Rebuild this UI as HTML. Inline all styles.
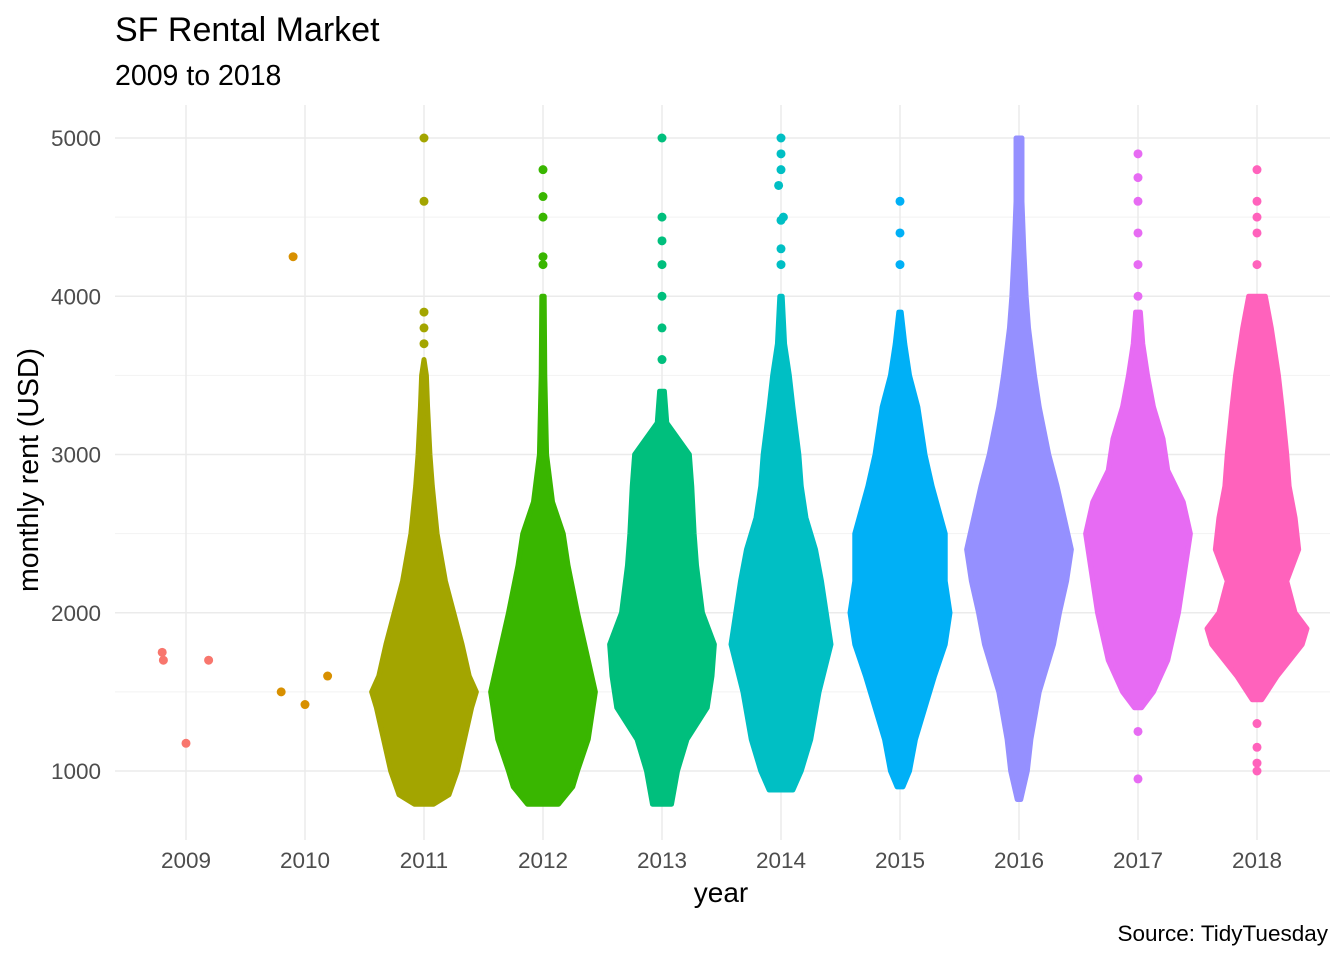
<!DOCTYPE html>
<html><head><meta charset="utf-8"><style>
body{margin:0;background:#fff;}
svg{display:block;font-family:"Liberation Sans",Arial,sans-serif;}
</style></head><body>
<svg id="c" width="1344" height="960">
<text x="115" y="41" font-size="34" fill="#000">SF Rental Market</text>
<text x="115" y="85" font-size="28.5" fill="#000">2009 to 2018</text>
<g id="grid"></g><g id="marks"></g><g id="axes"></g>
<text x="721" y="902" font-size="28" text-anchor="middle">year</text>
<text transform="translate(38,470) rotate(-90)" font-size="28.5" text-anchor="middle">monthly rent (USD)</text>
<text x="1328" y="941" font-size="22.5" text-anchor="end">Source: TidyTuesday</text>
</svg>
<script>
const years=[2009,2010,2011,2012,2013,2014,2015,2016,2017,2018];
const colors=["#F8766D","#D89000","#A3A500","#39B600","#00BF7D","#00BFC4","#00B0F6","#9590FF","#E76BF3","#FF62BC"];
const yTicks=[1000,2000,3000,4000,5000];
const yMinor=[1500,2500,3500,4500];
// density profiles: rent levels and half-widths (fraction of year spacing)
const rents2011=[790,850,1000,1200,1400,1500,1600,1800,2000,2200,2500,2800,3000,3300,3500,3600];
const width2011=[.08,.21,.28,.34,.4,.44,.38,.32,.25,.18,.11,.07,.05,.03,.02,0];
const rents2012=[790,900,1000,1200,1500,1700,2000,2300,2500,2700,3000,3500,4000];
const width2012=[.13,.25,.29,.38,.44,.38,.29,.21,.17,.08,.03,.015,.01];
const rents2013=[790,1000,1200,1400,1600,1800,2000,2300,2500,2800,3000,3200,3400];
const width2013=[.08,.13,.21,.38,.42,.44,.34,.29,.27,.25,.23,.04,.02];
const rents2014=[880,1000,1200,1500,1800,2000,2200,2400,2600,2800,3000,3300,3500,3700,4000];
const width2014=[.1,.17,.25,.32,.42,.38,.34,.29,.21,.17,.15,.1,.07,.03,.01];
const rents2015=[900,1000,1200,1400,1600,1800,2000,2200,2500,2800,3000,3300,3500,3700,3900];
const width2015=[.025,.08,.13,.21,.29,.38,.42,.38,.38,.27,.21,.15,.08,.04,.01];
const rents2016=[820,1000,1200,1500,1800,2000,2200,2400,2600,2800,3000,3300,3500,3800,4000,4300,4600,5000];
const width2016=[.015,.07,.1,.17,.29,.34,.4,.44,.38,.32,.25,.17,.13,.08,.06,.04,.025,.025];
const rents2017=[1400,1500,1700,2000,2200,2500,2700,2900,3100,3300,3500,3700,3900];
const width2017=[.03,.13,.25,.34,.38,.44,.38,.25,.21,.13,.08,.04,.02];
const rents2018=[1450,1600,1800,1900,2000,2200,2400,2600,2800,3000,3300,3500,3800,4000];
const width2018=[.04,.17,.38,.42,.32,.25,.35,.32,.27,.25,.21,.18,.12,.07];
const profiles={2011:[rents2011,width2011],2012:[rents2012,width2012],2013:[rents2013,width2013],2014:[rents2014,width2014],2015:[rents2015,width2015],2016:[rents2016,width2016],2017:[rents2017,width2017],2018:[rents2018,width2018]};
// individual points: year index, horizontal offset (year fraction), rent
const ptYear=[0,0,0,0,1,1,1,1,2,2,2,2,2,3,3,3,3,3,4,4,4,4,4,4,4,5,5,5,5,5,5,5,5,6,6,6,8,8,8,8,8,8,8,8,9,9,9,9,9,9,9,9,9];
const ptOff=[-.2,-.19,0,.19,-.2,-.1,0,.19,0,0,0,0,0,0,0,0,0,0,0,0,0,0,0,0,0,0,0,0,.02,-.02,0,0,0,0,0,0,0,0,0,0,0,0,0,0,0,0,0,0,0,0,0,0,0];
const ptRent=[1750,1700,1175,1700,1500,4250,1420,1600,3700,3800,3900,4600,5000,4200,4250,4500,4630,4800,3600,3800,4000,4200,4350,4500,5000,4200,4300,4480,4500,4700,4800,4900,5000,4200,4400,4600,950,1250,4000,4200,4400,4600,4750,4900,1000,1050,1150,1300,4200,4400,4500,4600,4800];

const xS=y=>186+(y-2009)*119;
const yS=v=>771-(v-1000)*0.15825;
const ns="http://www.w3.org/2000/svg";
function mk(t,a,p){const e=document.createElementNS(ns,t);for(const k in a)e.setAttribute(k,a[k]);p.appendChild(e);return e;}
const grid=document.getElementById('grid'),marks=document.getElementById('marks'),axes=document.getElementById('axes');
yMinor.forEach(v=>{const l=mk('line',{x1:115,x2:1330,y1:yS(v),y2:yS(v),stroke:'#f2f2f2','stroke-width':1},grid);

});
yTicks.forEach(v=>{const l=mk('line',{x1:115,x2:1330,y1:yS(v),y2:yS(v),stroke:'#ebebeb','stroke-width':1.5},grid);


const t=mk('text',{x:101,y:yS(v)+8,'font-size':22.5,fill:'#4d4d4d','text-anchor':'end'},axes);t.textContent=v;

});
years.forEach(y=>{const l=mk('line',{x1:xS(y),x2:xS(y),y1:105,y2:840,stroke:'#ebebeb','stroke-width':1.5},grid);


const t=mk('text',{x:xS(y),y:868,'font-size':22.5,fill:'#4d4d4d','text-anchor':'middle'},axes);t.textContent=y;

});
years.forEach((y,i)=>{const p=profiles[y];if(!p)return;const [r,w]=p;const cx=xS(y);
let pts=[];for(let k=0;k<r.length;k++)pts.push([cx+w[k]*119,yS(r[k])]);
for(let k=r.length-1;k>=0;k--)pts.push([cx-w[k]*119,yS(r[k])]);
const g=mk('polygon',{points:pts.map(q=>q.join(',')).join(' '),fill:colors[i],stroke:colors[i],'stroke-width':5,'stroke-linejoin':'round'},marks);

});
ptRent.forEach((v,k)=>{const yi=ptYear[k];const c=mk('circle',{cx:xS(years[yi])+ptOff[k]*119,cy:yS(v),r:4.5,fill:colors[yi]},marks);

});
</script>
</body></html>
